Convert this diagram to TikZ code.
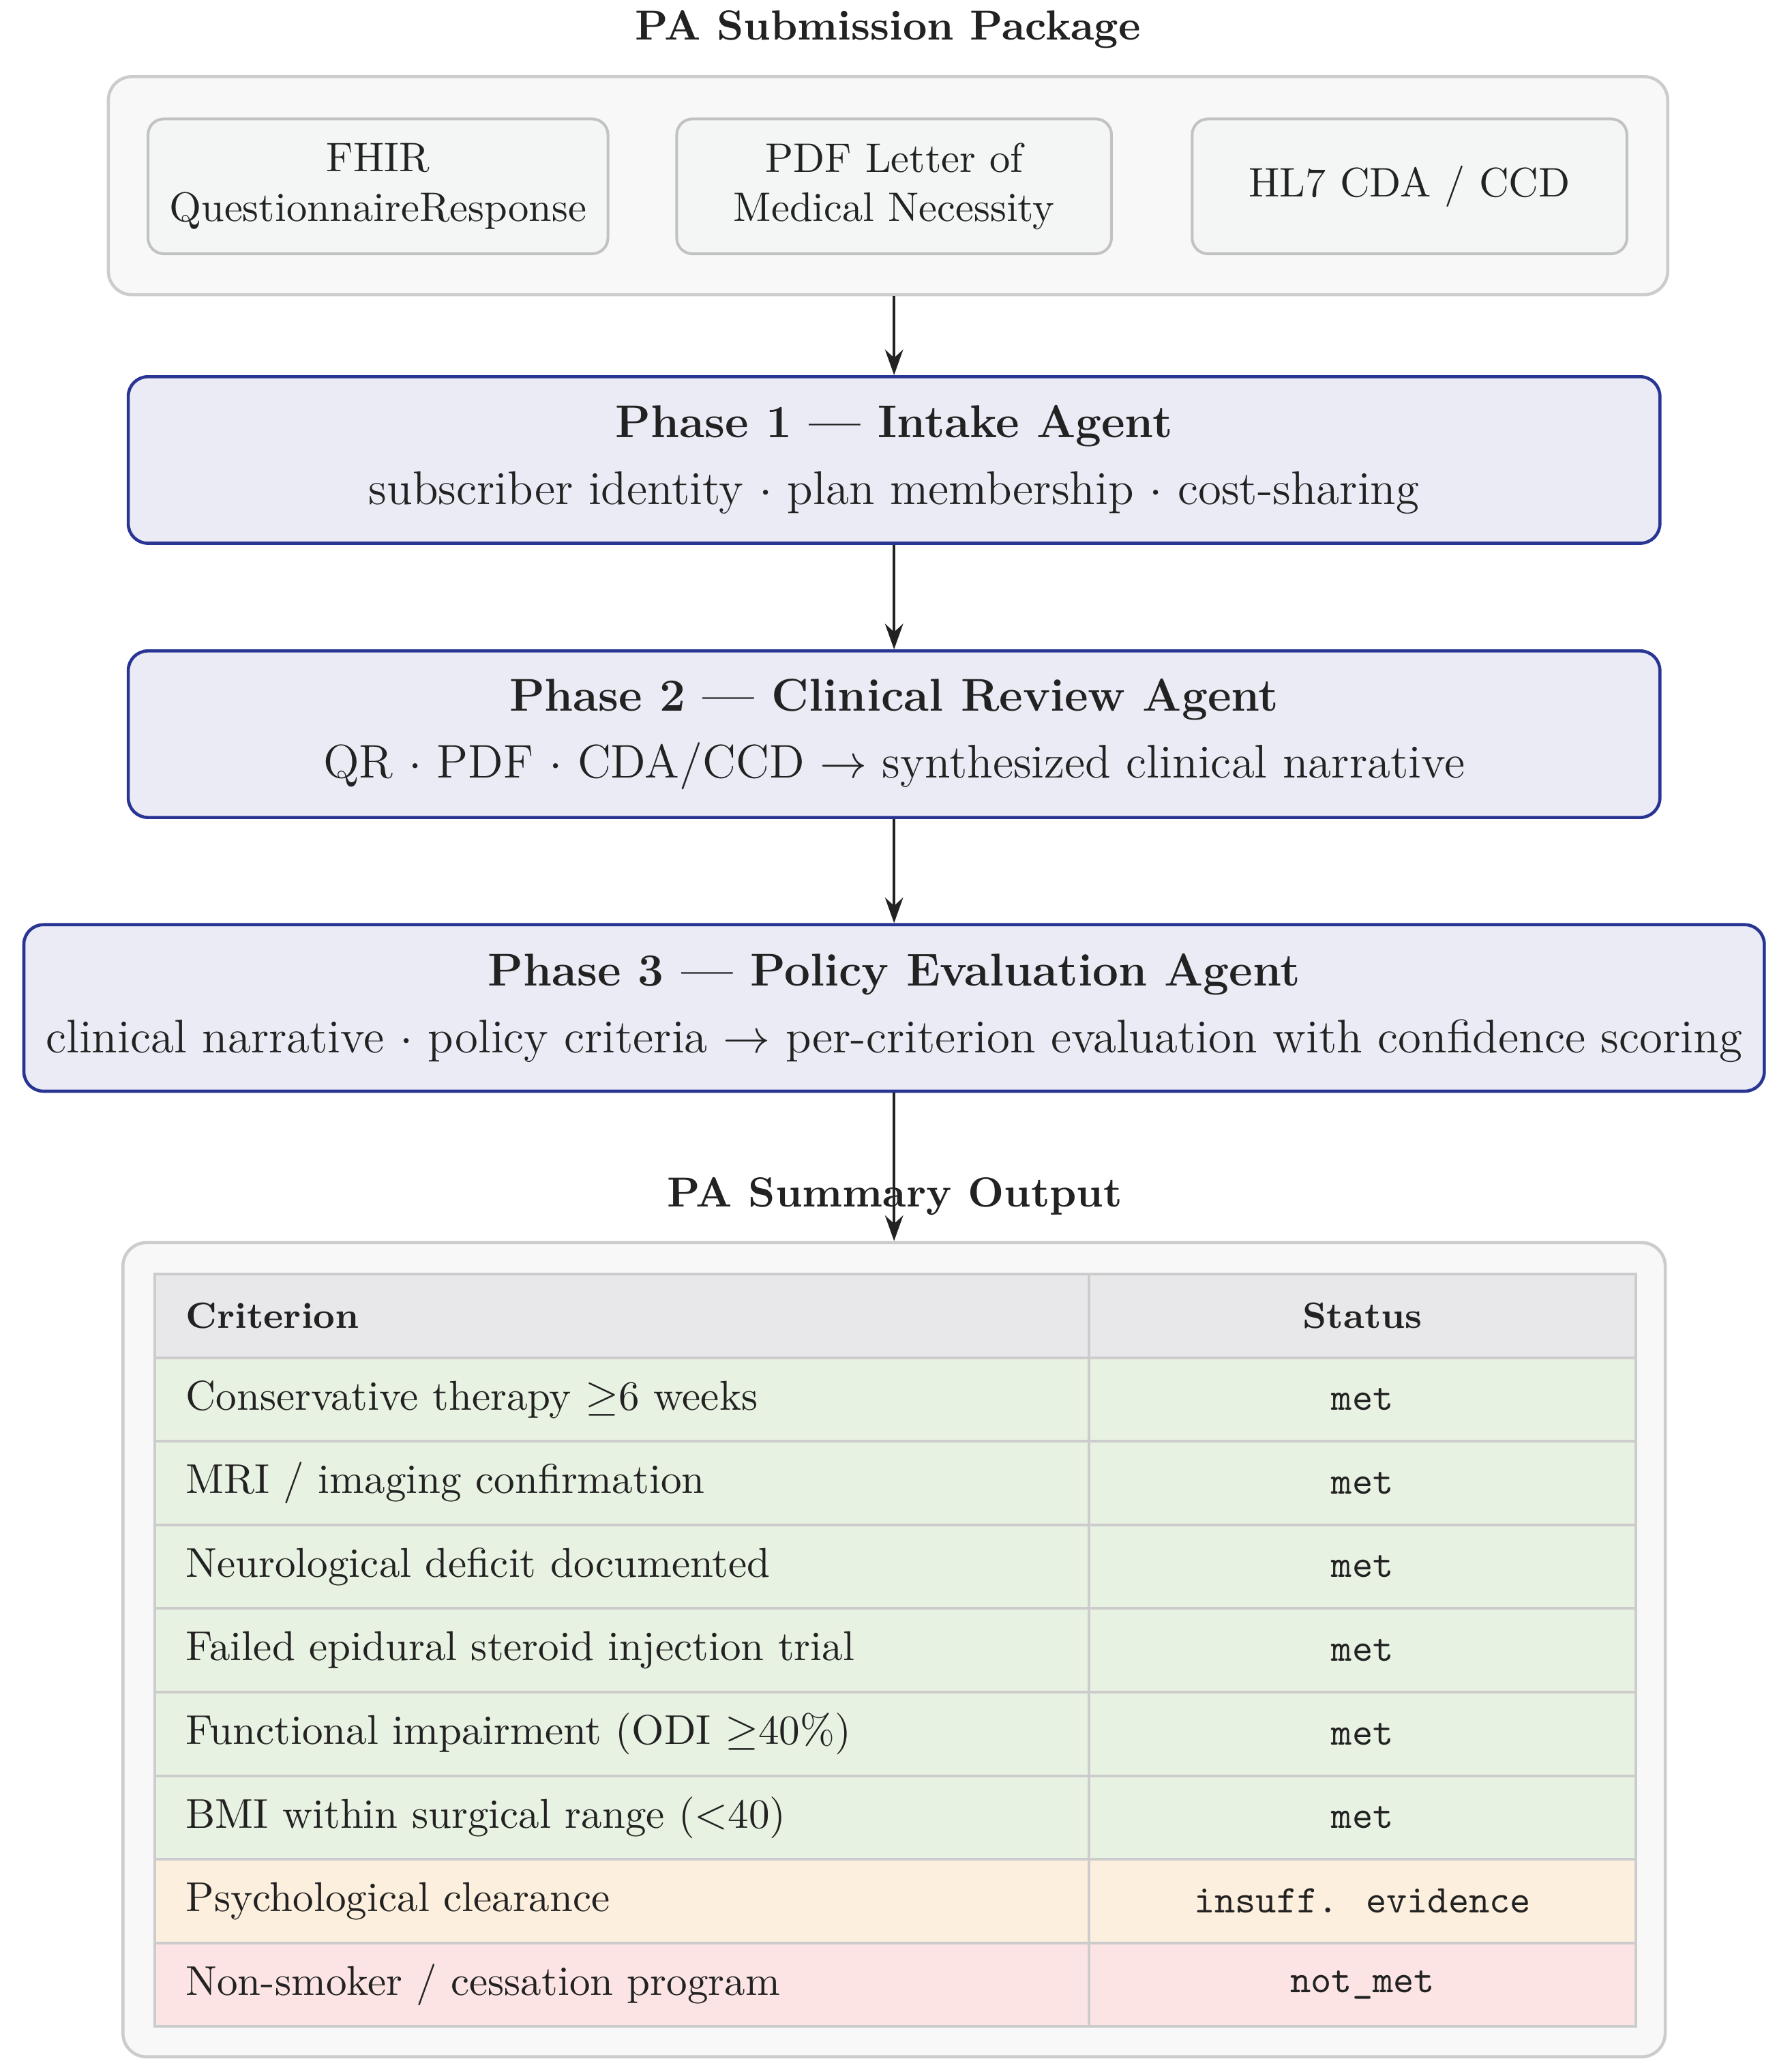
\documentclass[tikz,border=0pt]{standalone}
\usepackage{amsmath}
\usepackage{amssymb}
\usepackage{xcolor}
\usepackage{tikz}
\usetikzlibrary{positioning,arrows.meta}

\definecolor{inkc}{HTML}{222222}
\definecolor{framefill}{HTML}{F8F8F8}
\definecolor{framedraw}{HTML}{CCCCCC}
\definecolor{srcfill}{HTML}{F4F6F6}
\definecolor{srcdraw}{HTML}{C2C2C2}
\definecolor{phasefill}{HTML}{EBEBF5}
\definecolor{phasedraw}{HTML}{283593}
\definecolor{headfill}{HTML}{E8E8EB}
\definecolor{metc}{HTML}{E8F2E2}
\definecolor{insuffc}{HTML}{FDEFDD}
\definecolor{notmetc}{HTML}{FCE4E4}

\begin{document}
\begin{tikzpicture}[
        every node/.style={text=inkc},
        title/.style={font=\fontsize{10.7}{13}\selectfont\bfseries},
        frame/.style={draw=framedraw, fill=framefill, line width=0.8pt, rounded corners=6pt},
        srcbox/.style={draw=srcdraw, fill=srcfill, line width=0.7pt, rounded corners=4pt,
            minimum height=1.206cm, minimum width=3.89cm, align=center,
            font=\fontsize{10.5}{12.6}\selectfont},
        phase/.style={draw=phasedraw, fill=phasefill, line width=0.8pt, rounded corners=5pt,
            minimum height=1.49cm, align=center, font=\fontsize{12}{14}\selectfont},
        phasehead/.style={font=\fontsize{11.7}{14}\selectfont\bfseries},
        critcell/.style={draw=framedraw, line width=0.7pt, anchor=north west, minimum height=0.7476cm,
            text width=7.80cm, inner xsep=0.28cm, align=left, font=\fontsize{10.6}{12.7}\selectfont},
        statcell/.style={draw=framedraw, line width=0.7pt, anchor=north west, minimum height=0.7476cm,
            minimum width=4.895cm, font=\ttfamily},
        flow/.style={-{Stealth[length=6.5pt,width=4.6pt]}, line width=0.8pt, draw=inkc}
    ]
    \useasboundingbox (0,0) rectangle (15.9,-18.536);

    % Submission package
    \node[title] (subtitle) at (7.946,-0.262) {PA Submission Package};
    \node[frame, minimum width=13.953cm, minimum height=1.951cm] (src) at (7.946,-1.661) {};
    \node[srcbox, minimum width=4.115cm] (fhir) at (3.382,-1.667) {FHIR\\QuestionnaireResponse};
    \node[srcbox] (pdf) at (8.0,-1.667) {PDF Letter of\\Medical Necessity};
    \node[srcbox] (cda) at (12.612,-1.667) {HL7 CDA / CCD};

    % Agent phases
    \node[phase, minimum width=13.705cm] (p1) at (8.0,-4.115)
        {{\fontsize{11.7}{14}\selectfont\bfseries Phase 1 --- Intake Agent}\\[3pt]
         subscriber identity $\cdot$ plan membership $\cdot$ cost-sharing};
    \node[phase, minimum width=13.705cm] (p2) at (8.0,-6.568)
        {{\fontsize{11.7}{14}\selectfont\bfseries Phase 2 --- Clinical Review Agent}\\[3pt]
         QR $\cdot$ PDF $\cdot$ CDA/CCD $\rightarrow$ synthesized clinical narrative};
    \node[phase, minimum width=15.573cm] (p3) at (8.0,-9.017)
        {{\fontsize{11.7}{14}\selectfont\bfseries Phase 3 --- Policy Evaluation Agent}\\[3pt]
         clinical narrative $\cdot$ policy criteria $\rightarrow$ per-criterion evaluation with confidence scoring};

    % Summary output
    \node[title] (outtitle) at (8.005,-10.702) {PA Summary Output};
    \node[frame, minimum width=13.8cm, minimum height=7.284cm] (out) at (8.0,-14.758) {};

    \node[critcell, fill=headfill, font=\fontsize{9.3}{11}\selectfont\bfseries] (crit0) at (1.371,-11.387) {Criterion};
    \node[statcell, fill=headfill, font=\fontsize{9.3}{11}\selectfont\bfseries] (stat0) at (9.732,-11.387) {Status};
    \foreach \crit/\stat/\col [count=\i] in {
        {Conservative therapy $\geq$6 weeks}/met/metc,
        {MRI / imaging confirmation}/met/metc,
        {Neurological deficit documented}/met/metc,
        {Failed epidural steroid injection trial}/met/metc,
        {Functional impairment (ODI $\geq$40\%)}/met/metc,
        {BMI within surgical range ($<$40)}/met/metc,
        {Psychological clearance}/{insuff. evidence}/insuffc,
        {Non-smoker / cessation program}/{not\_met}/notmetc}
    {
        \node[critcell, fill=\col] (crit\i) at (1.371,{-11.387-0.7476*\i}) {\crit};
        \node[statcell, fill=\col] (stat\i) at (9.732,{-11.387-0.7476*\i}) {\stat};
    }

    % Flow arrows
    \draw[flow] (p1.north |- src.south) -- (p1.north);
    \draw[flow] (p1) -- (p2);
    \draw[flow] (p2) -- (p3);
    \draw[flow] (p3) -- (out.north);

\end{tikzpicture}
\end{document}
